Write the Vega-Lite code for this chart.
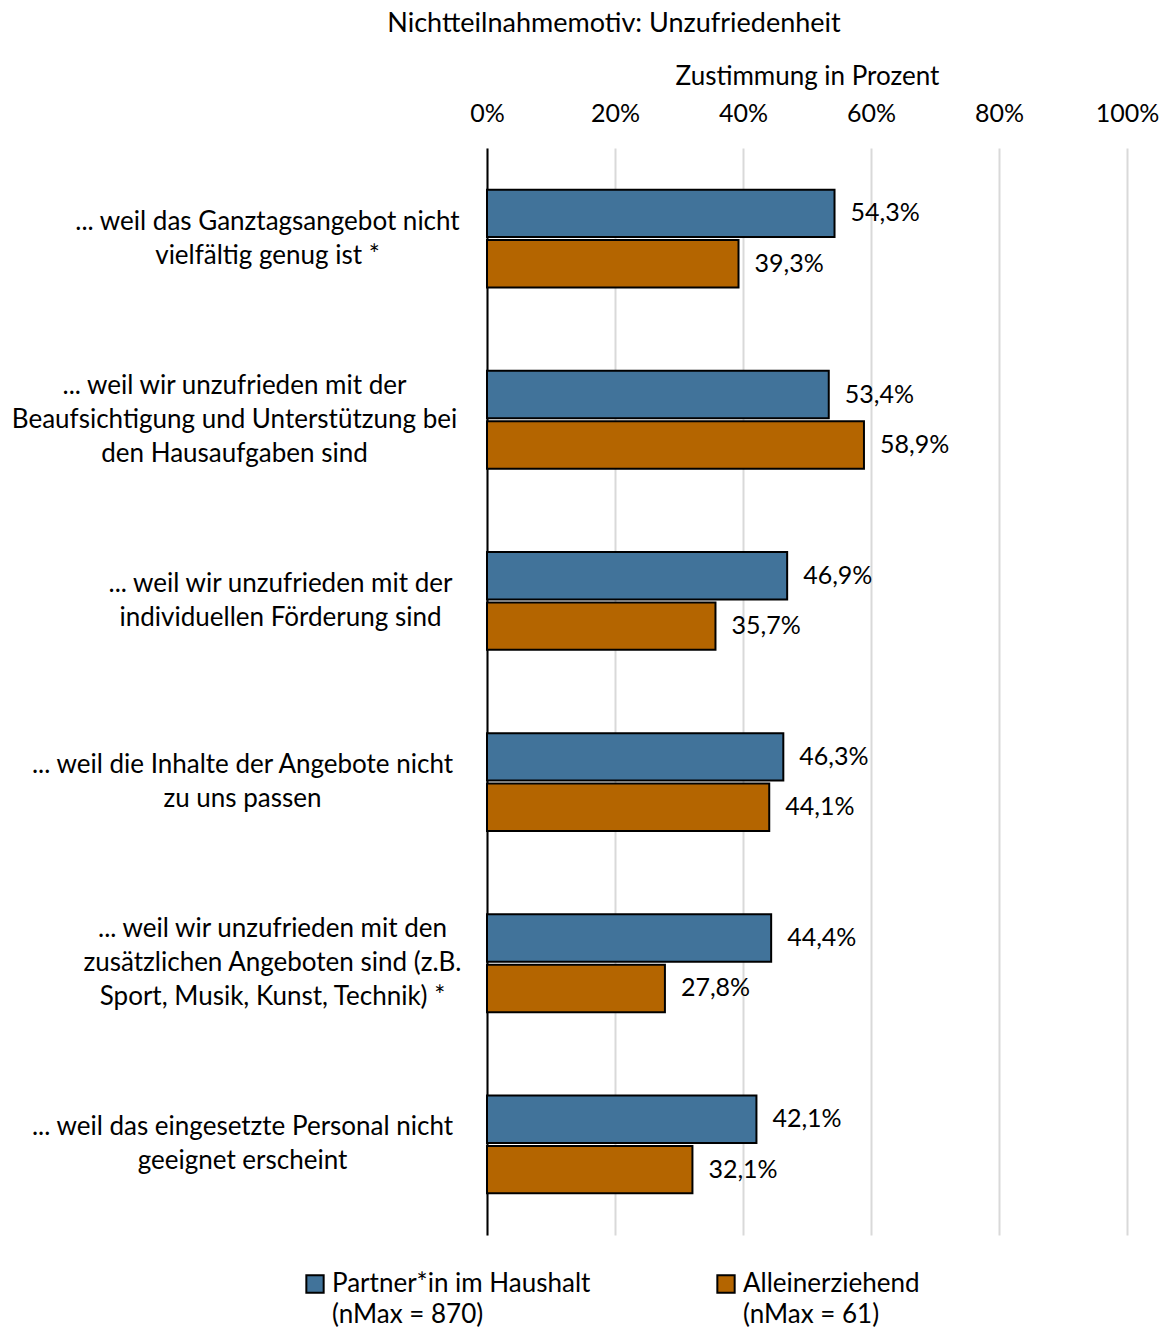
{
  "$schema": "https://vega.github.io/schema/vega-lite/v6.json",
  "width": 640,
  "height": 1087,
  "autosize": {"type": "none"},
  "padding": {"left": 487, "top": 148, "right": 37, "bottom": 94},
  "config": {
    "locale": {"number": {"decimal": ",", "thousands": ".", "grouping": [3], "currency": ["", " €"]}},
    "font": "Lato",
    "view": {"stroke": null},
    "style": {"guide-label": {"lineHeight": 31}}
  },
  "title": {
    "text": "Nichtteilnahmemotiv: Unzufriedenheit",
    "fontSize": 27,
    "fontWeight": "normal",
    "color": "black",
    "anchor": "middle",
    "dx": -193,
    "offset": 25
  },
  "data": {
    "values": [
      {"category": "... weil das Ganztagsangebot nicht|vielfältig genug ist *", "group": "Partner*in im Haushalt|(nMax = 870)", "value": 0.543},
      {"category": "... weil das Ganztagsangebot nicht|vielfältig genug ist *", "group": "Alleinerziehend|(nMax = 61)", "value": 0.393},
      {"category": "... weil wir unzufrieden mit der|Beaufsichtigung und Unterstützung bei|den Hausaufgaben sind", "group": "Partner*in im Haushalt|(nMax = 870)", "value": 0.534},
      {"category": "... weil wir unzufrieden mit der|Beaufsichtigung und Unterstützung bei|den Hausaufgaben sind", "group": "Alleinerziehend|(nMax = 61)", "value": 0.589},
      {"category": "... weil wir unzufrieden mit der|individuellen Förderung sind", "group": "Partner*in im Haushalt|(nMax = 870)", "value": 0.469},
      {"category": "... weil wir unzufrieden mit der|individuellen Förderung sind", "group": "Alleinerziehend|(nMax = 61)", "value": 0.357},
      {"category": "... weil die Inhalte der Angebote nicht|zu uns passen", "group": "Partner*in im Haushalt|(nMax = 870)", "value": 0.463},
      {"category": "... weil die Inhalte der Angebote nicht|zu uns passen", "group": "Alleinerziehend|(nMax = 61)", "value": 0.441},
      {"category": "... weil wir unzufrieden mit den|zusätzlichen Angeboten sind (z.B.|Sport, Musik, Kunst, Technik) *", "group": "Partner*in im Haushalt|(nMax = 870)", "value": 0.444},
      {"category": "... weil wir unzufrieden mit den|zusätzlichen Angeboten sind (z.B.|Sport, Musik, Kunst, Technik) *", "group": "Alleinerziehend|(nMax = 61)", "value": 0.278},
      {"category": "... weil das eingesetzte Personal nicht|geeignet erscheint", "group": "Partner*in im Haushalt|(nMax = 870)", "value": 0.421},
      {"category": "... weil das eingesetzte Personal nicht|geeignet erscheint", "group": "Alleinerziehend|(nMax = 61)", "value": 0.321}
    ]
  },
  "encoding": {
    "y": {
      "field": "category",
      "type": "nominal",
      "sort": null,
      "scale": {"paddingInner": 0.46, "paddingOuter": 0.23},
      "axis": {
        "title": null,
        "domain": true,
        "domainColor": "black",
        "domainWidth": 2,
        "ticks": false,
        "labelAlign": "center",
        "labelBaseline": "middle",
        "labelFontSize": 26,
        "labelColor": "black",
        "labelLineHeight": 34,
        "labelLimit": 0,
        "labelExpr": "split(datum.label, '|')",
        "labelOffset": {"expr": "length(split(datum.label, '|')) > 2 ? -34 : -17"},
        "labelPadding": {"expr": "indexof(datum.label, 'Ganztagsangebot') >= 0 ? 220 : indexof(datum.label, 'Beaufsichtigung') >= 0 ? 253 : indexof(datum.label, 'individuellen') >= 0 ? 207 : indexof(datum.label, 'zusätzlichen') >= 0 ? 215 : 245"}
      }
    },
    "yOffset": {"field": "group", "type": "nominal", "sort": null, "scale": {"paddingInner": 0.06}},
    "x": {
      "field": "value",
      "type": "quantitative",
      "scale": {"domain": [0, 1]},
      "axis": {
        "orient": "top",
        "values": [0, 0.2, 0.4, 0.6, 0.8, 1],
        "format": ".0%",
        "grid": true,
        "gridColor": "#d9d9d9",
        "gridWidth": 2,
        "domain": false,
        "ticks": false,
        "labelFlush": false,
        "labelFontSize": 25,
        "labelColor": "black",
        "labelPadding": 22,
        "title": "Zustimmung in Prozent",
        "titleFontSize": 26,
        "titleFontWeight": "normal",
        "titleColor": "black",
        "titlePadding": 12
      }
    }
  },
  "layer": [
    {
      "mark": {"type": "bar", "stroke": "black", "strokeWidth": 2},
      "encoding": {
        "color": {
          "field": "group",
          "type": "nominal",
          "scale": {"domain": ["Partner*in im Haushalt|(nMax = 870)", "Alleinerziehend|(nMax = 61)"], "range": ["#41739a", "#b46500"]},
          "legend": {
            "orient": "none",
            "legendX": -185,
            "legendY": 1123,
            "direction": "horizontal",
            "title": null,
            "symbolType": "square",
            "symbolSize": 300,
            "symbolStrokeColor": "black",
            "symbolStrokeWidth": 2,
            "labelFontSize": 26,
            "labelColor": "black",
            "labelLimit": 0,
            "labelBaseline": "middle",
            "labelOffset": 4,
            "labelExpr": "split(datum.label, '|')",
            "columnPadding": 122
          }
        }
      }
    },
    {
      "mark": {"type": "text", "align": "left", "baseline": "middle", "dx": 16, "fontSize": 25, "color": "black"},
      "encoding": {
        "text": {"field": "value", "type": "quantitative", "format": ".1%"}
      }
    }
  ]
}
